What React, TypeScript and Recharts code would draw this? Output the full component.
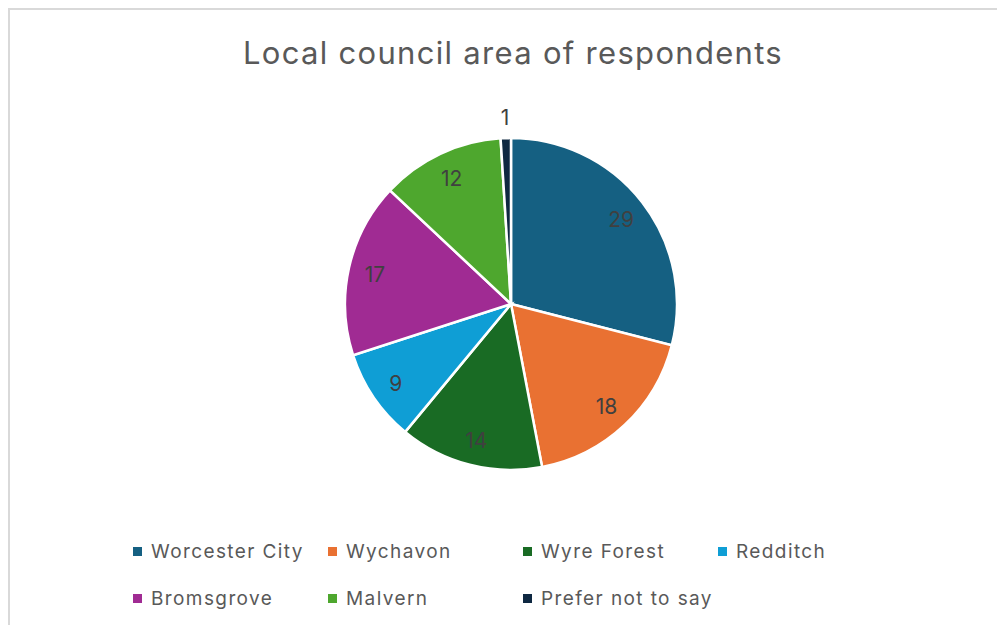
import { PieChart, Pie, Cell, Legend } from "recharts";

const areas = [
  "Worcester City",
  "Wychavon",
  "Wyre Forest",
  "Redditch",
  "Bromsgrove",
  "Malvern",
  "Prefer not to say",
];
const counts = [29, 18, 14, 9, 17, 12, 1];
const colors = ["#156082", "#E97132", "#196B24", "#0F9ED5", "#A02B93", "#4EA72E", "#0E2841"];

const data = areas.map((name, i) => ({ name, value: counts[i] }));

const FONT = "Inter, 'Open Sans', sans-serif";
const RADIAN = Math.PI / 180;

const renderLabel = ({ cx, cy, midAngle, outerRadius, percent, value }: any) => {
  // small slices go outside, like Excel's best fit
  const r = percent < 0.03 ? outerRadius + 22 : outerRadius * 0.84;
  const x = cx + r * Math.cos(-midAngle * RADIAN);
  const y = cy + r * Math.sin(-midAngle * RADIAN) + 1;
  return (
    <text
      x={x}
      y={y}
      fill="#404040"
      textAnchor="middle"
      dominantBaseline="central"
      fontSize={21}
      fontFamily={FONT}
    >
      {value}
    </text>
  );
};

const LegendContent = () => (
  <div
    style={{
      display: "grid",
      gridTemplateColumns: "195px 195px 195px 195px",
      rowGap: 24,
      fontFamily: FONT,
      fontSize: 19,
      letterSpacing: 1.4,
      color: "#595959",
    }}
  >
    {areas.map((name, i) => (
      <div key={name} style={{ display: "flex", alignItems: "center", height: 23 }}>
        <span
          style={{
            display: "inline-block",
            width: 9,
            height: 9,
            background: colors[i],
            marginRight: 9,
          }}
        />
        <span>{name}</span>
      </div>
    ))}
  </div>
);

export default function App() {
  return (
    <div
      style={{
        position: "relative",
        width: 1000,
        height: 620,
        border: "2px solid #d9d9d9",
        boxSizing: "border-box",
        background: "#fff",
      }}
    >
      <div
        style={{
          position: "absolute",
          top: 24,
          left: 0,
          width: 1006,
          textAlign: "center",
          fontFamily: FONT,
          fontSize: 31,
          letterSpacing: 1.3,
          color: "#595959",
        }}
      >
        Local council area of respondents
      </div>
      <PieChart width={996} height={616} style={{ position: "absolute", top: 0, left: 0 }}>
        <Pie
          data={data}
          dataKey="value"
          nameKey="name"
          cx={496}
          cy={289}
          outerRadius={166}
          startAngle={90}
          endAngle={-270}
          stroke="#ffffff"
          strokeWidth={2.5}
          label={renderLabel}
          labelLine={false}
          isAnimationActive={false}
        >
          {data.map((d, i) => (
            <Cell key={d.name} fill={colors[i]} />
          ))}
        </Pie>
        <Legend
          content={LegendContent}
          wrapperStyle={{ position: "absolute", left: 123, top: 530, width: 800 }}
        />
      </PieChart>
    </div>
  );
}
